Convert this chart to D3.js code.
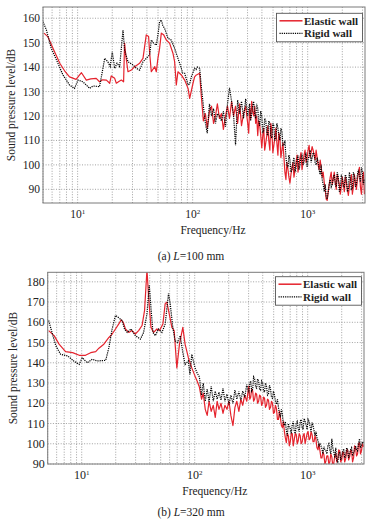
<!DOCTYPE html>
<html><head><meta charset="utf-8">
<script src="https://cdn.jsdelivr.net/npm/d3@7"></script>
<style>body{margin:0;background:#fff}text{font-family:"Liberation Serif","Times New Roman",serif;fill:#222}</style>
</head><body><svg id="c" width="382" height="524"></svg>
<script>
// ---------- data ----------
const freqHi = [110,115,119,124,129,134,140,146,152,158,164,171,178,185,193,201,209,218,227,236,246,256,266,277,289,301,313,326,339,353,368,383,399,415,432,450,469,488,508,529,551,573,597,622,647,674,701,730,760,792,824,858,893,930,968,1008,1050,1093,1138,1184,1233,1284,1337,1392,1449,1508,1570,1635,1702,1772,1845,1921,2000,2082,2168,2257,2350,2446,2547,2652,2761,2874,2992,3115];
const freqMid = [307,319,332,346,360,375,391,407,423,441,459,478,498,518,540,562,585,609,634,660,687,715,745,776,808,841,875,911,949,988,1029,1071,1115,1161,1208,1258,1310,1364,1420,1478,1539,1602,1668,1737,1808,1883,1960,2041,2125,2212,2303,2398,2496,2599,2706,2817,2933,3053];

// (a) L=100 mm
const elasticA_lo = [[5.1,153.9],[5.5,152.5],[6.2,147],[7.0,141.6],[7.7,138.5],[8.5,136],[9.7,135],[10.4,136.8],[10.8,137.7],[11.9,134.7],[13,135.2],[14.5,135.4],[15.5,134],[16.5,134.8],[17.8,134.7],[19,133.4],[19.6,136.4],[21,135.4],[21.7,133.4],[23,134.2],[24,134.7],[25.1,134],[25.6,149.8],[26.2,145],[27.4,138.1],[29.3,138.8],[31.3,140.2],[34.6,141.6],[37,143.6],[39.5,153.2],[41.4,152.5],[42.3,145.7],[43.7,138.1],[46.8,140.2],[48.3,138.1],[49.9,143.6],[51.6,147.7],[53.4,153.9],[56,153.2],[59,151.1],[63,149.8],[67.4,145.7],[69.7,142.2],[72.1,132.7],[74.5,138.1],[79.7,136.8],[85.2,134.7],[91.2,131.3],[94.2,127.2],[100.7,133.4],[104,136],[107.7,136.8]];
const elasticA_hi = [137,137.5,128,118,121,115,122,124,117,120,125,119,121,114.5,120,124,119,126,120,124,117,125,116,121,124,117,123,126,120,117,112,116,107,115,109,116,106,114,108,115,104,111,106,103,94,98,92.5,99,95,101,97,103,98,104,101,106,103,107.5,104,106,100,102,95,93,86,89,95,92,97,90,94,88,95,89,93,87.5,94,88,96,90,97,91,95,88];
const elasticA_mid = [113,119,122,124,120,118,112,112,106,112,110,117,105,111,109,113,103,109,97,101,95,96,101,98,104,100,105,101,106,103,108,105,106,102,103,98,99,97,90,85.5,92,97,94,93,96,92,91,92,95,90,91,96,91,93,94,99,88,97];
const rigidA_lo = [[5.0,158.6],[5.35,155.2],[5.9,147.7],[6.74,141.6],[7.45,136.8],[8.5,132.7],[9.4,131.3],[10.07,134.7],[11.1,134],[12.0,132.5],[12.7,131.3],[13.6,132.3],[15.5,132],[16.1,136.1],[17.2,143.6],[18.3,142.2],[19.2,140.2],[20,146.3],[21,139.5],[22,141.6],[23.2,140.2],[24.8,155.2],[25.6,147],[27.4,142.2],[30.3,140.9],[32.4,139.5],[34.6,138.8],[37,142.2],[39.5,143.6],[42.3,145],[43.7,151.1],[45.8,149.8],[48.3,149],[49.9,153.2],[51.6,158.6],[53.4,159.3],[55,157],[57,155.9],[61,151.8],[65,151.1],[69.7,147.7],[74.5,143.6],[79.7,139.5],[82,137.5],[85.2,137.5],[91.2,132.7],[94,133],[97.5,136.1],[104,139.5],[107,139]];
const rigidA_hi = [140,139.5,132,124,117,113,125,120,123,117,121,120,118,122,115.6,125,131.5,126,120,108,126.5,121,126,119,127,120,125,121,126,119,123,116,120,114,118,112,117,111,116,111,115,110,113.5,108,103,99,102,98,103,99,104,100,104.5,101,105,102,106,103,104.5,100,101,96,94,89,87,89,94,92,96,91,95,90,94.5,91,95,90,94.5,90.5,95.5,92,98,93,97,94];
const rigidA_mid = [123,118,124,121,125,118,122,113,119,113,118,112,117,110,117,112,115,108,110,100,104,97,101,97,102,98,103,100,103,99,104,101,105,101,103,98,100,92,92,86,92,91,95,92,97,89,96,91,96,89,97,90,97,91,96,95,99,92];

// (b) L=320 mm
const elasticB_lo = [[5.1,155.9],[5.7,153.4],[6.3,149.2],[7.2,145.5],[8.3,145],[9.5,143.7],[10.8,143.7],[12,145],[13.3,145.5],[14.2,147.2],[15.7,149.2],[17.4,152.5],[18.6,154.2],[19.9,156.7],[21.3,159.2],[22.3,161.2],[23.3,160],[24.4,156.7],[26.1,155],[27.9,155.9],[29.8,154.2],[31.9,155.9],[34.2,158.4],[36,165.9],[37.8,186],[39.1,172.5],[41,157.5],[43.3,155],[46.3,156.7],[48.9,155.9],[52.3,159.2],[54.8,169.2],[56.7,170],[59.5,164.2],[62.8,157.5],[65.8,155.9],[69.5,137.5],[73.3,149.2],[78.5,157.5],[82.2,149.2],[87.9,142.5],[94.2,137.5],[100.7,133.4],[105,131]];
const elasticB_hi = [128,122,125,117,114,121,116,119,113,121,117,120,115,119,117,121,114,109,118,121,116,122,119,124,121,128.5,123,126,122,124.5,121,123.5,120,122.5,119,121.5,118,120,115.5,117.5,112,113,108,106,100.5,104,101,105,102,104.5,101.5,104,101,105,102.5,106,102.5,104.5,101,102,97,96.5,93,94.5,91.5,94,91,93.5,90.5,95,92.5,96.5,92,95.5,92.5,97,93.5,96.5,93,98,95,100.5,96.5,98.5];
const elasticB_mid = [122,127,121,125,120,124,119,123,118,122,117,121,115,119,112,116,109,111,103,105,99,105,99,105,100,105,100,104,100,105,102,106,101,104,98,100,93,96,90,94,90,95,89,94,91,97,91,96,91,97,92,97,91,99,94,100,95,100];
const rigidB_lo = [[5.1,160.9],[5.4,155.9],[5.9,148.4],[6.5,144.2],[7.5,143.4],[8.5,140.9],[9.5,139.2],[10.1,142.5],[11.2,140],[12.4,141.7],[13.7,140.9],[16.3,141.2],[17.4,147.5],[18.6,156.7],[19.9,163.4],[21.3,162.2],[22.8,160.9],[23.9,156.7],[25.3,155],[27.3,156.7],[29.8,153.4],[33.1,151.7],[35.3,155],[37.8,164.2],[39.6,178.4],[41.3,165],[42.7,155],[44.8,153.4],[47.8,156.7],[51.3,155],[54.8,159.2],[58.6,174.2],[60.7,169.2],[64,157.5],[67,150.9],[70.5,150],[74.5,153.4],[78.5,145],[82.2,139.2],[87.9,140.9],[90.7,134.2],[94.2,144.2],[100.7,137.5],[105,135]];
const rigidB_hi = [133,124,130,121,127,120.8,128.4,121,126,122,125.5,121.5,127.5,121,124.5,119.5,124,120,126.5,122,125.8,121.5,126,123,129.2,125,131,127,132,127.5,131,126.5,130,125.5,128.5,124.5,127,122.5,124,119.5,118,113,114.5,109,106.5,110,107.5,109.5,106.5,110,107.5,111,108,112.5,109.5,112,108.5,110.5,106.5,106,101.5,100,97.5,98.5,96.5,99,97,102.5,96,98,91,96,94,97.5,94,97,95,98,95.5,99,96.5,102.5,99,100.5];
const rigidB_mid = [130,126,133,128,132,127,131,126,130,124,129,123,126,121,122,115,117,110,111,104,108,105,111,105,111,106,112,107,111,107,111,106,109,104,103,99,99,95,97,95,100,95,98,93,92,95,92,96,93,98,93,97,94,97,97,100,98,101];

const yTicksA = [90,100,110,120,130,140,150,160];
const yTicksB = [90,100,110,120,130,140,150,160,170,180];
const xTicks = [10,100,1000];
const xTickExp = ["1","2","3"];
const seriesNames = ["Elastic wall","Rigid wall"];
const captions = ["(a) ", "L", "=100 mm", "(b) ", "L", "=320 mm"];

// ---------- drawing ----------
const svg = d3.select("#c");
const red = "#e5232d";
function join(lo, hi, mid){
  const pts = freqHi.map((f,i)=>[f,hi[i]]).concat(freqMid.map((f,i)=>[f,mid[i]]))
    .filter(d=>d[1]!==undefined).sort((a,b)=>a[0]-b[0]);
  return lo.concat(pts);
}

const gridFreqs = [];
[1,10,100,1000].forEach(d=>{for(let k=1;k<10;k++){const f=k*d; if(f>=5&&f<=3150) gridFreqs.push(f);}});

function panel(o){
  const x = d3.scaleLog().domain([5,3150]).range([o.l,o.r]);
  const y = d3.scaleLinear().domain(o.yd).range([o.b,o.t]);
  const g = svg.append("g");
  const id = "clip"+o.key;
  svg.append("clipPath").attr("id",id).append("rect").attr("x",o.l).attr("y",o.t).attr("width",o.r-o.l).attr("height",o.b-o.t);
  g.selectAll(".vg").data(gridFreqs).join("line")
    .attr("x1",d=>x(d)).attr("x2",d=>x(d)).attr("y1",o.t).attr("y2",o.b)
    .attr("stroke","#8a8a8a").attr("stroke-width",0.8).attr("stroke-dasharray","1,1.6");
  g.selectAll(".hg").data(o.yt).join("line")
    .attr("x1",o.l).attr("x2",o.r).attr("y1",d=>y(d)).attr("y2",d=>y(d))
    .attr("stroke","#8a8a8a").attr("stroke-width",0.8).attr("stroke-dasharray","1,1.6");
  const line = d3.line().x(d=>x(d[0])).y(d=>y(d[1]));
  g.append("path").datum(join(o.el,o.eh,o.em)).attr("d",line).attr("fill","none")
    .attr("stroke",red).attr("stroke-width",1.2).attr("stroke-linejoin","round").attr("clip-path",`url(#${id})`);
  g.append("path").datum(join(o.rl,o.rh,o.rm)).attr("d",line).attr("fill","none")
    .attr("stroke","#000").attr("stroke-width",1.2).attr("stroke-dasharray","1.2,1").attr("clip-path",`url(#${id})`);
  g.append("rect").attr("x",o.l).attr("y",o.t).attr("width",o.r-o.l).attr("height",o.b-o.t)
    .attr("fill","none").attr("stroke","#7a7a7a").attr("stroke-width",1);
  g.selectAll(".yl").data(o.yt).join("text")
    .attr("x",o.l-3).attr("y",d=>y(d)+4).attr("text-anchor","end")
    .attr("font-size",o.fs).text(d=>d);
  const xl = g.selectAll(".xl").data(xTicks).join("text")
    .attr("x",d=>x(d)).attr("y",o.b+15).attr("text-anchor","middle").attr("font-size",o.fs);
  xl.text("10").append("tspan").attr("dy",-4.5).attr("font-size",7).text((d,i)=>xTickExp[i]);
  g.append("text").attr("x",(o.l+o.r)/2+9).attr("y",o.b+31).attr("text-anchor","middle")
    .attr("font-size",11.5).text("Frequency/Hz");
  g.append("text").attr("transform",`translate(${o.yx},${(o.t+o.b)/2}) rotate(-90)`)
    .attr("text-anchor","middle").attr("font-size",11.5).text("Sound pressure level/dB");
  const c = g.append("text").attr("x",191).attr("y",o.capy).attr("text-anchor","middle").attr("font-size",11.5);
  c.append("tspan").text(captions[o.ci]);
  c.append("tspan").attr("font-style","italic").text(captions[o.ci+1]);
  c.append("tspan").text(captions[o.ci+2]);
  const lg = g.append("g");
  lg.append("rect").attr("x",o.lx).attr("y",o.ly).attr("width",86).attr("height",28.5)
    .attr("fill","#fff").attr("stroke","#555").attr("stroke-width",0.9);
  seriesNames.forEach((s,i)=>{
    const yy = o.ly+7.5+i*12.6;
    lg.append("line").attr("x1",o.lx+3).attr("x2",o.lx+26).attr("y1",yy).attr("y2",yy)
      .attr("stroke",i===0?red:"#000").attr("stroke-width",i===0?1.5:1.2)
      .attr("stroke-dasharray",i===0?null:"1.2,1");
    lg.append("text").attr("x",o.lx+27.5).attr("y",yy+3.8).attr("font-size",11).attr("font-weight","bold").text(s);
  });
}

panel({key:"A",l:43,r:365,t:7,b:203,yd:[84.4,164.6],yt:yTicksA,el:elasticA_lo,eh:elasticA_hi,em:elasticA_mid,rl:rigidA_lo,rh:rigidA_hi,rm:rigidA_mid,fs:11.5,yx:15,capy:260,ci:0,lx:276.5,ly:13.3});
panel({key:"B",l:47.7,r:364,t:272.3,b:464,yd:[90,184.7],yt:yTicksB,el:elasticB_lo,eh:elasticB_hi,em:elasticB_mid,rl:rigidB_lo,rh:rigidB_hi,rm:rigidB_mid,fs:12,yx:17,capy:516,ci:3,lx:275.5,ly:276.7});
</script></body></html>
